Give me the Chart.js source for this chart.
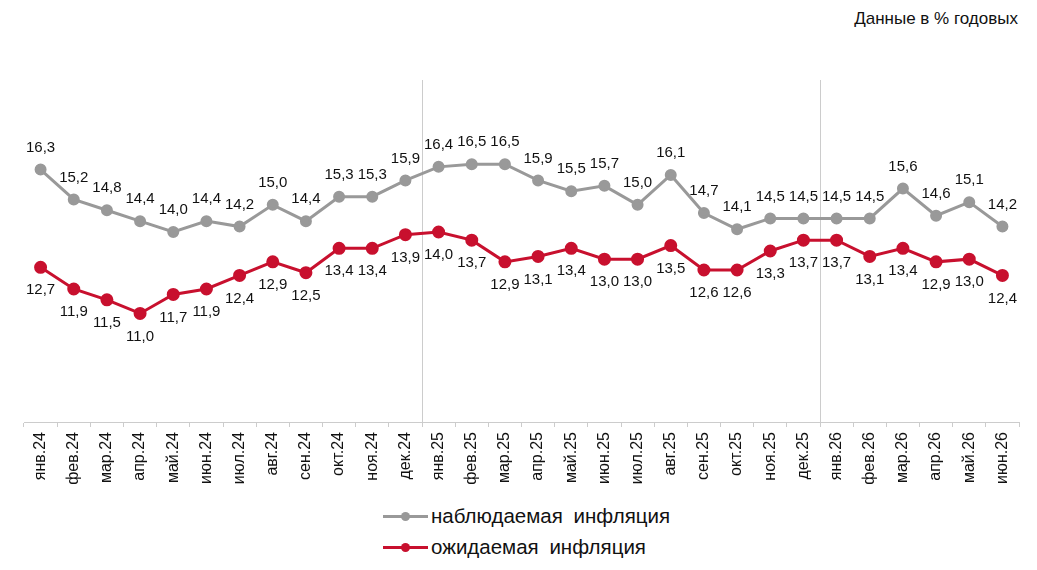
<!DOCTYPE html>
<html>
<head>
<meta charset="utf-8">
<script src="https://cdn.jsdelivr.net/npm/chart.js"></script>
<style>
  body { margin: 0; background: #fff; font-family: "Liberation Sans", Arial, sans-serif; }
  #wrap { position: absolute; left: 0; top: 0; width: 1037px; height: 500px; }
  #note { position: absolute; right: 19px; top: 9px; font-size: 17px; color: #111; }
  .leg { position: absolute; left: 383px; font-size: 20.5px; color: #111; word-spacing: 5px; }
  .leg i { display: inline-block; position: relative; width: 45px; height: 3px; vertical-align: middle; margin-right: 3px; top: -1px; }
  .leg i b { position: absolute; left: 18px; top: -3px; width: 9px; height: 9px; border-radius: 50%; }
</style>
</head>
<body>
<div id="note">Данные в % годовых</div>
<div id="wrap"><canvas id="chart"></canvas></div>
<div class="leg" style="top:504px"><i style="background:#999"><b style="background:#999"></b></i>наблюдаемая инфляция</div>
<div class="leg" style="top:535px"><i style="background:#c8102e"><b style="background:#c8102e"></b></i>ожидаемая инфляция</div>
<script>
const ctx = document.getElementById("chart").getContext("2d");

// months
const months = [
  "янв.24", "фев.24", "мар.24", "апр.24", "май.24", "июн.24", "июл.24", "авг.24", "сен.24", "окт.24", "ноя.24", "дек.24",
  "янв.25", "фев.25", "мар.25", "апр.25", "май.25", "июн.25", "июл.25", "авг.25", "сен.25", "окт.25", "ноя.25", "дек.25",
  "янв.26", "фев.26", "мар.26", "апр.26", "май.26", "июн.26",
];
// observed inflation, % per year
const observed = [
  16.3, 15.2, 14.8, 14.4, 14.0, 14.4, 14.2, 15.0, 14.4, 15.3, 15.3, 15.9,
  16.4, 16.5, 16.5, 15.9, 15.5, 15.7, 15.0, 16.1, 14.7, 14.1, 14.5, 14.5,
  14.5, 14.5, 15.6, 14.6, 15.1, 14.2,
];
// expected inflation, % per year
const expected = [
  12.7, 11.9, 11.5, 11.0, 11.7, 11.9, 12.4, 12.9, 12.5, 13.4, 13.4, 13.9,
  14.0, 13.7, 12.9, 13.1, 13.4, 13.0, 13.0, 13.5, 12.6, 12.6, 13.3, 13.7,
  13.7, 13.1, 13.4, 12.9, 13.0, 12.4,
];
// year separators (line drawn before these months)
const yearStarts = ["янв.25", "янв.26"];

const fmt = (v) => v.toFixed(1).replace(".", ",");

// value labels: grey above, red below
const valueLabels = {
  id: "valueLabels",
  afterDatasetsDraw(chart) {
    const c = chart.ctx;
    c.save();
    c.font = "15px 'Liberation Sans', Arial, sans-serif";
    c.fillStyle = "#111";
    c.textAlign = "center";
    c.textBaseline = "middle";
    chart.data.datasets.forEach((ds, i) => {
      const meta = chart.getDatasetMeta(i);
      meta.data.forEach((pt, j) => {
        const dy = i === 0 ? -22 : 23;
        c.fillText(fmt(ds.data[j]), pt.x, pt.y + dy);
      });
    });
    c.restore();
  },
};

// vertical lines between years
const yearLines = {
  id: "yearLines",
  beforeDatasetsDraw(chart) {
    const c = chart.ctx;
    const xs = chart.scales.x;
    const area = chart.chartArea;
    c.save();
    c.strokeStyle = "#cccccc";
    c.lineWidth = 1;
    yearStarts.forEach((m) => {
      const idx = months.indexOf(m);
      const x = Math.round((xs.getPixelForValue(idx - 1) + xs.getPixelForValue(idx)) / 2) + 0.5;
      c.beginPath();
      c.moveTo(x, area.top);
      c.lineTo(x, area.bottom);
      c.stroke();
    });
    c.restore();
  },
};

const myChart = new Chart(ctx, {
  type: "line",
  data: {
    labels: months,
    datasets: [
      {
        label: "наблюдаемая инфляция",
        data: observed,
        borderColor: "#999999",
        backgroundColor: "#999999",
        borderWidth: 3,
        pointRadius: 4.5,
        pointHoverRadius: 4.5,
        tension: 0,
      },
      {
        label: "ожидаемая инфляция",
        data: expected,
        borderColor: "#c8102e",
        backgroundColor: "#c8102e",
        borderWidth: 3,
        pointRadius: 5,
        pointHoverRadius: 5,
        tension: 0,
      },
    ],
  },
  options: {
    responsive: true,
    maintainAspectRatio: false,
    animation: false,
    layout: { padding: { left: 24, right: 18, top: 80, bottom: 0 } },
    plugins: {
      legend: { display: false },
      tooltip: { enabled: false },
    },
    scales: {
      x: {
        offset: true,
        afterFit: (s) => { s.height = 78; },
        border: { color: "#cccccc", width: 1 },
        grid: { offset: true, drawOnChartArea: false, drawTicks: true, tickLength: 5, color: "#cccccc" },
        ticks: {
          minRotation: 90,
          maxRotation: 90,
          autoSkip: false,
          padding: 5,
          color: "#111",
          font: { family: "'Liberation Sans', Arial, sans-serif", size: 16 },
        },
      },
      y: {
        display: false,
        min: 7,
        max: 19.6,
      },
    },
  },
  plugins: [yearLines, valueLabels],
});
</script>
</body>
</html>
